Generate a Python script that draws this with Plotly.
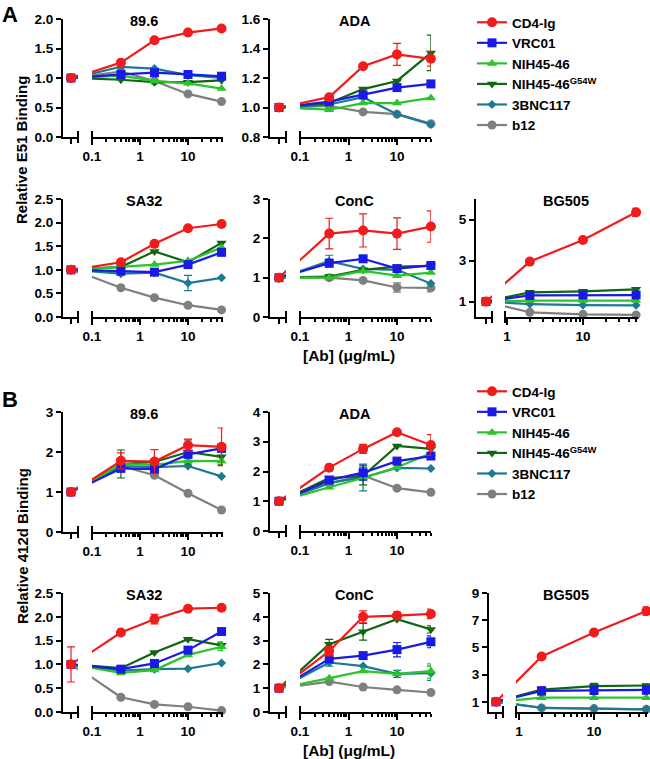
import math
import plotly.graph_objects as go

W, H = 650, 759

series = ['CD4-Ig', 'VRC01', 'NIH45-46', 'NIH45-46<sup>G54W</sup>', '3BNC117', 'b12']
colors = ['#F21B1B', '#1A1AE6', '#2BC42B', '#116611', '#1C7A94', '#7F7F7F']
symbols = ['circle', 'square', 'triangle-up', 'triangle-down', 'diamond', 'circle']
msize = [10, 9, 9, 9, 7, 9]

# antibody concentration (ug/mL), 0 = no antibody
conc = [0, 0.4, 2, 10, 50]
conc_bg505 = [0, 2, 10, 50]

# ---- A: relative E51 binding, one row per entry of `series`
e51_896 = [[1, 1.26, 1.64, 1.77, 1.84],
           [1, 1.06, 1.09, 1.06, 1.03],
           [1, 1.04, 0.95, 0.91, 0.82],
           [1, 0.97, 0.93, 0.93, 0.96],
           [1, 1.19, 1.16, 1.05, 1.00],
           [1, 1.11, 0.95, 0.73, 0.60]]
e51_896_err = {}

e51_ada = [[1, 1.07, 1.28, 1.36, 1.33],
           [1, 1.04, 1.085, 1.135, 1.16],
           [1, 0.985, 1.03, 1.03, 1.065],
           [1, 1.03, 1.125, 1.18, 1.37],
           [1, 1.02, 1.07, 0.955, 0.885],
           [1, 1.01, 0.97, 0.955, 0.89]]
e51_ada_err = {0: [0, 0, 0, 0.075, 0.05], 3: [0, 0, 0, 0, 0.12]}

e51_sa32 = [[1, 1.16, 1.55, 1.88, 1.97],
            [1, 0.97, 0.95, 1.11, 1.37],
            [1, 1.06, 1.11, 1.19, 1.47],
            [1, 1.06, 1.39, 1.16, 1.57],
            [1, 0.92, 0.94, 0.72, 0.83],
            [1, 0.62, 0.41, 0.25, 0.15]]
e51_sa32_err = {4: [0, 0, 0, 0.16, 0]}

e51_conc = [[1, 2.12, 2.2, 2.12, 2.3],
            [1, 1.37, 1.48, 1.23, 1.31],
            [1, 1.0, 1.17, 1.05, 1.13],
            [1, 1.03, 1.2, 1.28, 1.3],
            [1, 1.42, 1.22, 1.2, 0.85],
            [1, 1.0, 0.93, 0.75, 0.74]]
e51_conc_err = {0: [0.09, 0.39, 0.42, 0.4, 0.4], 4: [0, 0.15, 0, 0, 0],
                5: [0, 0.06, 0, 0.12, 0.1]}

e51_bg505 = [[1, 2.95, 4.0, 5.35],
             [1, 1.3, 1.32, 1.32],
             [1, 1.05, 1.05, 1.05],
             [1, 1.45, 1.5, 1.6],
             [1, 0.88, 0.83, 0.82],
             [1, 0.48, 0.38, 0.35]]
e51_bg505_err = {0: [0, 0.1, 0.1, 0.2], 1: [0, 0.15, 0.1, 0.1]}

# ---- B: relative 412d binding
d412_896 = [[1, 1.78, 1.76, 2.17, 2.13],
            [1, 1.59, 1.57, 1.94, 2.09],
            [1, 1.7, 1.68, 1.78, 1.77],
            [1, 1.7, 1.75, 2.0, 1.88],
            [1, 1.65, 1.62, 1.65, 1.39],
            [1, 1.65, 1.42, 0.97, 0.55]]
d412_896_err = {0: [0, 0.2, 0.3, 0.15, 0.47], 3: [0, 0.35, 0, 0.3, 0.2]}

d412_ada = [[1, 2.13, 2.76, 3.32, 2.89],
            [1, 1.71, 1.96, 2.35, 2.52],
            [1, 1.47, 1.78, 2.14, 2.61],
            [1, 1.78, 1.85, 2.86, 2.76],
            [1, 1.62, 1.8, 2.12, 2.1],
            [1, 1.6, 1.87, 1.44, 1.3]]
d412_ada_err = {0: [0, 0, 0.15, 0, 0.35], 1: [0, 0, 0.25, 0, 0],
                3: [0, 0, 0.3, 0, 0], 4: [0, 0, 0.45, 0, 0]}

d412_sa32 = [[1, 1.67, 1.95, 2.17, 2.19],
             [1, 0.9, 1.02, 1.3, 1.69],
             [1, 0.82, 0.88, 1.2, 1.37],
             [1, 0.92, 1.25, 1.53, 1.4],
             [1, 0.87, 0.9, 0.91, 1.03],
             [1, 0.31, 0.16, 0.11, 0.03]]
d412_sa32_err = {0: [0.37, 0, 0.1, 0, 0], 2: [0, 0, 0, 0, 0.08],
                 3: [0, 0, 0, 0, 0.07]}

d412_conc = [[1, 2.56, 4.0, 4.05, 4.12],
             [1, 2.23, 2.37, 2.62, 2.95],
             [1, 1.42, 1.72, 1.6, 1.72],
             [1, 2.85, 3.37, 3.9, 3.47],
             [1, 2.08, 1.93, 1.6, 1.63],
             [1, 1.28, 1.05, 0.93, 0.82]]
d412_conc_err = {0: [0, 0.2, 0.25, 0.15, 0.2], 1: [0, 0, 0, 0.3, 0.25],
                 2: [0, 0, 0, 0, 0.3], 3: [0, 0.2, 0.35, 0, 0.15],
                 4: [0, 0.15, 0, 0.15, 0.3]}

d412_bg505 = [[1, 4.33, 6.09, 7.67],
              [1, 1.8, 1.85, 1.87],
              [1, 1.3, 1.3, 1.3],
              [1, 1.9, 2.15, 2.2],
              [1, 0.56, 0.5, 0.45],
              [1, 0.55, 0.5, 0.45]]
d412_bg505_err = {0: [0, 0.15, 0.1, 0.3], 1: [0, 0.3, 0.3, 0.3],
                  3: [0, 0.15, 0.2, 0.1]}


def px(x):
    return x / W


def py(y):
    return 1 - y / H


def ref(letter, n):
    return letter if n == 1 else f'{letter}{n}'


# column geometry in pixels: y-axis, zero tick, break end, main start/end, px per decade
cols = {
    'L': dict(yx=63, pt=71, bx=78, mx=92, ex=223, dec=48, start=-1.0, zero=0.04,
              major=[0.1, 1, 10], tx=144),
    'M': dict(yx=270, pt=279, bx=286, mx=300, ex=431, dec=48.5, start=-1.0, zero=0.04,
              major=[0.1, 1, 10], tx=355),
    'RA': dict(yx=476, pt=486, bx=492, mx=505, ex=638, dec=76, start=-0.026, zero=0.5,
               major=[1, 10], tx=566),
    'RB': dict(yx=489, pt=496, bx=503, mx=516, ex=648, dec=75, start=-0.04, zero=0.5,
               major=[1, 10], tx=566),
}

panels = [
    ('89.6', 'L', (19, 137), e51_896, e51_896_err, conc, [0, 2], dict(dtick=0.5, tickformat='.1f'), 'legend'),
    ('ADA', 'M', (19, 137), e51_ada, e51_ada_err, conc, [0.8, 1.6], dict(dtick=0.2, tickformat='.1f'), None),
    ('SA32', 'L', (199, 317), e51_sa32, e51_sa32_err, conc, [0, 2.5], dict(dtick=0.5, tickformat='.1f'), None),
    ('ConC', 'M', (199, 317), e51_conc, e51_conc_err, conc, [0, 3], dict(dtick=1), None),
    ('BG505', 'RA', (199, 317), e51_bg505, e51_bg505_err, conc_bg505, [0.25, 6], dict(tickvals=[1, 3, 5]), None),
    ('89.6', 'L', (412, 532), d412_896, d412_896_err, conc, [0, 3], dict(dtick=1), 'legend2'),
    ('ADA', 'M', (412, 531), d412_ada, d412_ada_err, conc, [0, 4], dict(dtick=1), None),
    ('SA32', 'L', (593, 712), d412_sa32, d412_sa32_err, conc, [0, 2.5], dict(dtick=0.5, tickformat='.1f'), None),
    ('ConC', 'M', (593, 712), d412_conc, d412_conc_err, conc, [0, 5], dict(dtick=1), None),
    ('BG505', 'RB', (593, 712), d412_bg505, d412_bg505_err, conc_bg505, [0.25, 9], dict(tickvals=[1, 3, 5, 7, 9]), None),
]

FONT = 'Liberation Sans, Arial, sans-serif'
fig = go.Figure()
layout = {}
shapes = []
annotations = []

for k, (name, ck, (yt, yb), vals, errs, xs, yrange, ytick, leg) in enumerate(panels):
    g = cols[ck]
    ns, nm, ny = 2 * k + 1, 2 * k + 2, k + 1
    xs_ref, xm_ref, y_ref = ref('x', ns), ref('x', nm), ref('y', ny)
    lz = math.log10(g['zero'])
    xplot = [g['zero']] + list(xs[1:])

    layout[ref('yaxis', ny)] = dict(
        domain=[py(yb), py(yt)], range=yrange, anchor=xs_ref, automargin=False,
        showline=True, linewidth=2, linecolor='black', ticks='outside', ticklen=5,
        tickwidth=2, tickcolor='black', showgrid=False, zeroline=False,
        tickfont=dict(size=13.5), **ytick)
    layout[ref('xaxis', ns)] = dict(
        type='log', domain=[px(g['yx']), px(g['bx'])], automargin=False,
        range=[lz - (g['pt'] - g['yx']) / g['dec'], lz + (g['bx'] - g['pt']) / g['dec']],
        anchor=y_ref, showline=True, linewidth=2, linecolor='black',
        tickvals=[g['zero']], ticktext=[' '], ticks='outside', ticklen=5, tickwidth=2,
        tickcolor='black', showgrid=False, zeroline=False)
    minor = [m * 10.0 ** e for e in (-1, 0, 1) for m in range(2, 10)
             if g['major'][0] < m * 10.0 ** e <= 50]
    layout[ref('xaxis', nm)] = dict(
        type='log', domain=[px(g['mx']), px(g['ex'])], automargin=False,
        range=[g['start'], g['start'] + (g['ex'] - g['mx']) / g['dec']],
        anchor=y_ref, showline=True, linewidth=2, linecolor='black',
        tickvals=g['major'], ticktext=[str(v) for v in g['major']],
        ticks='outside', ticklen=6, tickwidth=2, tickcolor='black',
        minor=dict(tickvals=minor, ticks='outside', ticklen=3, tickwidth=1.5,
                   tickcolor='black', showgrid=False),
        showgrid=False, zeroline=False, tickfont=dict(size=13.5))

    # break caps
    for xr, xv in ((f'{xs_ref} domain', 1), (f'{xm_ref} domain', 0)):
        shapes.append(dict(type='line', xref=xr, x0=xv, x1=xv, yref=f'{y_ref} domain',
                           ysizemode='pixel', yanchor=0, y0=-6, y1=6,
                           line=dict(color='black', width=2)))

    annotations.append(dict(text=name, x=px(g['tx']), y=py(yt + 2), font=dict(size=14.5),
                            xanchor='center', yanchor='middle'))

    for i in reversed(range(len(series))):
        y = vals[i]
        e = errs.get(i, [0] * len(y))
        c = colors[i]
        mk = dict(symbol=symbols[i], size=msize[i], color=c, line=dict(width=0))

        def eb(arr, c=c):
            return dict(type='data', array=arr, color=c, thickness=1.2, width=4, visible=True)

        # connecting segment from the zero-dose point, shown on both sides of the break
        for xr in (xs_ref, xm_ref):
            fig.add_trace(go.Scatter(x=xplot[:2], y=y[:2], mode='lines', xaxis=xr, yaxis=y_ref,
                                     line=dict(color=c, width=2.2), showlegend=False, hoverinfo='skip'))
        fig.add_trace(go.Scatter(x=xplot[:1], y=y[:1], mode='markers', xaxis=xs_ref, yaxis=y_ref,
                                 marker=mk, error_y=eb(e[:1]), cliponaxis=False, showlegend=False))
        fig.add_trace(go.Scatter(x=xplot[1:], y=y[1:], mode='lines+markers', xaxis=xm_ref, yaxis=y_ref,
                                 name=series[i], line=dict(color=c, width=2.2), marker=mk,
                                 error_y=eb(e[1:]), cliponaxis=False,
                                 showlegend=leg is not None, legend=leg or 'legend', legendrank=i + 1))

annotations += [
    dict(text='A', x=px(0), y=1, xanchor='left', yanchor='top', font=dict(size=22)),
    dict(text='B', x=px(0), y=py(385), xanchor='left', yanchor='top', font=dict(size=22)),
    dict(text='Relative E51 Binding', x=px(22), y=py(150), textangle=-90, font=dict(size=15),
         xanchor='center', yanchor='middle'),
    dict(text='Relative 412d Binding', x=px(22), y=py(546), textangle=-90, font=dict(size=15),
         xanchor='center', yanchor='middle'),
    dict(text='[Ab] (\u03bcg/mL)', x=px(349), y=py(355), font=dict(size=15.5),
         xanchor='center', yanchor='middle'),
    dict(text='[Ab] (\u03bcg/mL)', x=px(349), y=py(750), font=dict(size=15.5),
         xanchor='center', yanchor='middle'),
]
for a in annotations:
    a['xref'] = 'paper'
    a['yref'] = 'paper'
    a['showarrow'] = False

leg_style = dict(xanchor='left', yanchor='top', font=dict(size=13.5), tracegroupgap=0,
                 itemwidth=30, bgcolor='rgba(0,0,0,0)', borderwidth=0)
fig.update_layout(
    width=W, height=H, margin=dict(l=0, r=0, t=0, b=0, autoexpand=False),
    paper_bgcolor='white', plot_bgcolor='white', hovermode=False,
    font=dict(family=FONT, size=13, color='black', weight='bold'),
    legend=dict(x=px(472), y=py(7), **leg_style),
    legend2=dict(x=px(472), y=py(376), **leg_style),
    shapes=shapes, annotations=annotations, **layout)

# the page's default body margin would shift the whole figure by 8px
fig.write_html('out.html', config={'displayModeBar': False},
               post_script="document.body.style.margin='0';")
